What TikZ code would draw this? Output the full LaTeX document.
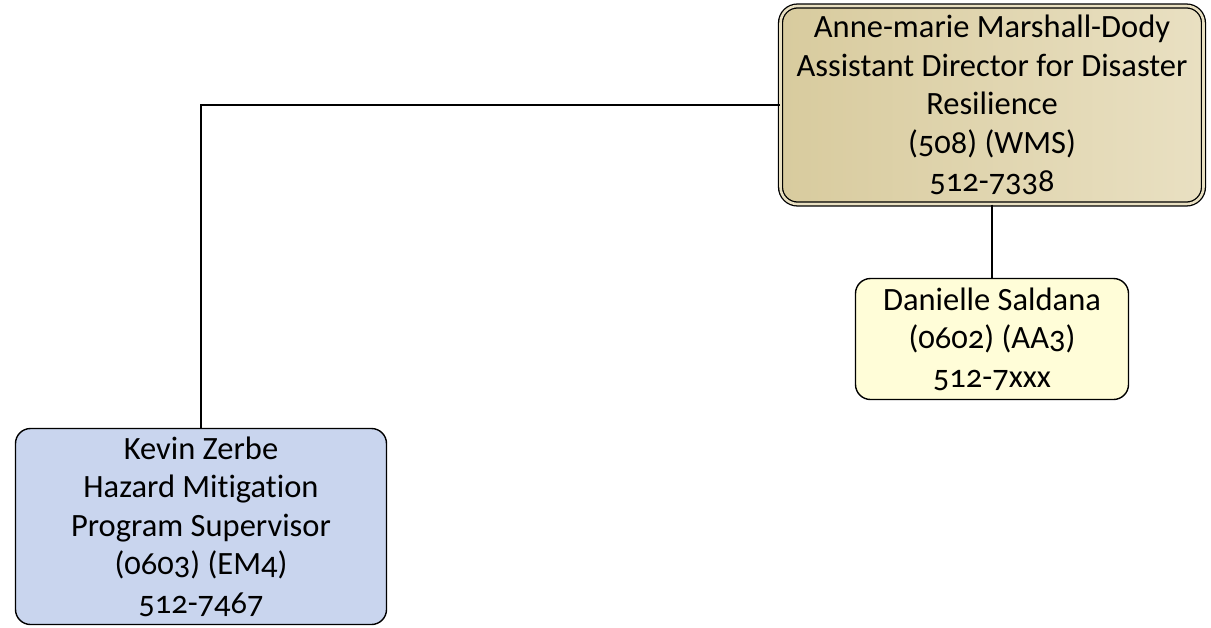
\documentclass[tikz,border=0pt]{standalone}
\usepackage{fontspec}
\setmainfont{Carlito}[Numbers=OldStyle, Ligatures=NoCommon]
\definecolor{bosstan}{HTML}{D8CB9E}
\definecolor{bosstanlight}{HTML}{E9E0C2}
\definecolor{staffblue}{HTML}{C9D5EE}
\definecolor{staffyellow}{HTML}{FFFDD8}
\tikzset{
  person/.style={draw=black, line width=1.4pt, rounded corners=15pt, align=center,
    inner sep=0pt, font=\fontsize{32.5}{38.5}\selectfont},
  boss/.style={person, double=bosstanlight, double distance=2.6pt, line width=1.3pt,
    rounded corners=17pt, left color=bosstan, right color=bosstanlight},
  link/.style={draw=black, line width=1.4pt}
}
\begin{document}
\begin{tikzpicture}[x=1pt, y=-1pt]
  \useasboundingbox (0,0) rectangle (1211,627);
  \node[boss, minimum width=423pt, minimum height=198pt] (AM) at (992,105)
    {Anne-marie Marshall-Dody\\Assistant Director for Disaster\\Resilience\\(508) (WMS)\\512-7338};
  \node[person, fill=staffyellow, minimum width=273pt, minimum height=121pt] (DS) at (992,339)
    {Danielle Saldana\\(0602) (AA3)\\512-7xxx};
  \node[person, fill=staffblue, minimum width=371pt, minimum height=196pt] (KZ) at (201,526.5)
    {Kevin Zerbe\\Hazard Mitigation\\Program Supervisor\\(0603) (EM4)\\512-7467};
  \draw[link] (AM.west) -| (KZ.north);
  \draw[link] (AM.south) -- (DS.north);
\end{tikzpicture}
\end{document}
